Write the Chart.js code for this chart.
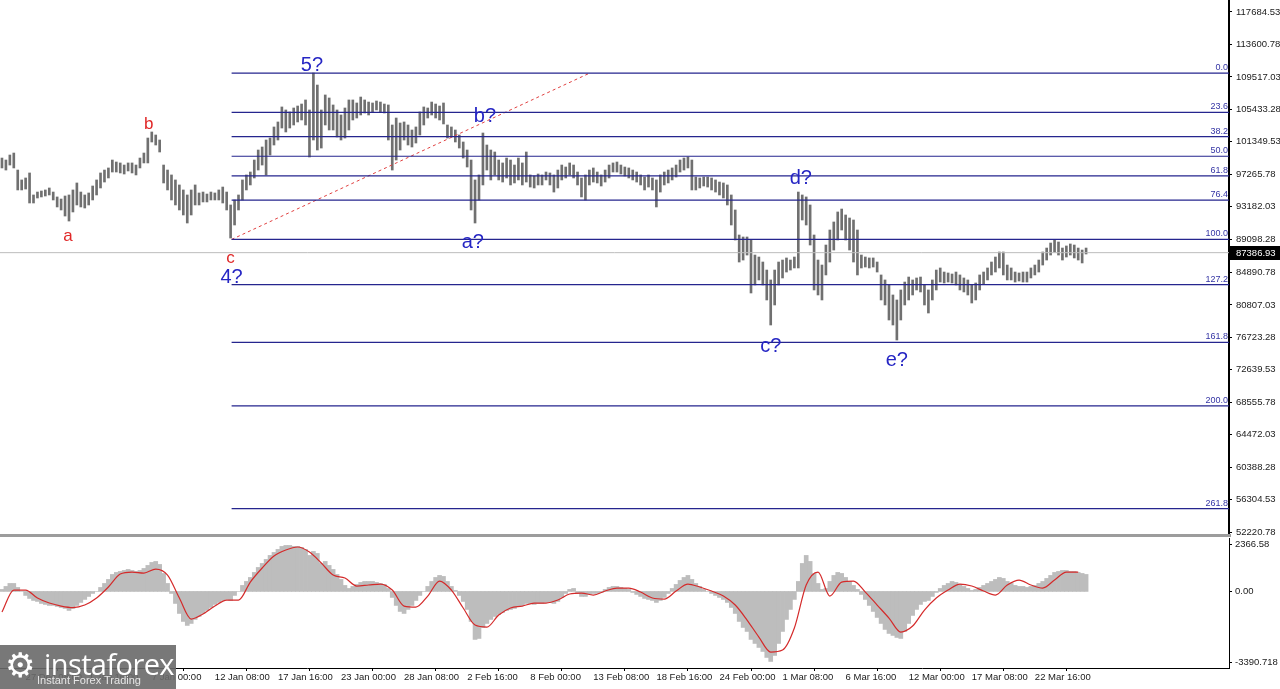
<!DOCTYPE html>
<html><head><meta charset="utf-8">
<script src="https://cdn.jsdelivr.net/npm/chart.js@4.4.1/dist/chart.umd.min.js"></script>
<style>
html,body{margin:0;padding:0;background:#fff;width:1280px;height:689px;overflow:hidden;position:relative;}
#c1{position:absolute;left:0;top:0;}
#c2{position:absolute;left:0;top:536px;}
#sep{position:absolute;left:0;top:534px;width:1231px;height:3px;background:#9c9c9c;}
#logo{position:absolute;left:0;top:645px;width:176px;height:44px;background:rgba(105,105,105,0.9);overflow:hidden;}
#logo .gear{position:absolute;left:5px;top:0px;font:34px "DejaVu Sans";color:#fff;}
#logo .name{position:absolute;left:44px;top:-1px;font:29px "Open Sans","Liberation Sans",sans-serif;color:#fff;letter-spacing:-0.6px;}
#logo .tag{position:absolute;left:37px;top:29px;font:11px "Liberation Sans",sans-serif;color:#e6e6e6;}
</style></head><body>
<canvas id="c1" width="1280" height="542"></canvas>
<div id="sep"></div>
<canvas id="c2" width="1280" height="153"></canvas>
<div id="logo"><span class="gear">⚙</span><span class="name">instaforex</span><span class="tag">Instant Forex Trading</span></div>
<script>
// ---------------- data ----------------
const tickLabels = ['27 Dec 08:00','1 Jan 16:00','7 Jan 00:00','12 Jan 08:00','17 Jan 16:00','23 Jan 00:00','28 Jan 08:00','2 Feb 16:00','8 Feb 00:00','13 Feb 08:00','18 Feb 16:00','24 Feb 00:00','1 Mar 08:00','6 Mar 16:00','12 Mar 00:00','17 Mar 08:00','22 Mar 16:00'];
const priceTicks = [117684.53,113600.78,109517.03,105433.28,101349.53,97265.78,93182.03,89098.28,84890.78,80807.03,76723.28,72639.53,68555.78,64472.03,60388.28,56304.53,52220.78];
const viewFrom = '25 Dec 04:00';
const viewTo = '8 Apr 02:00';
const priceMin = 52095, priceMax = 119195;
const barStart = '25 Dec 08:00';
const barStepHours = 8;
const priceHigh = [
99300,99050,99680,99930,97790,96540,96790,97420,94650,95020,
95150,95280,95530,95020,94400,94140,94520,94650,95280,96160,
95020,94650,94900,95780,96540,97420,97790,98050,99050,98800,
98680,98420,98680,98680,98420,99300,99930,101820,102580,102200,
101570,98420,97790,97170,96540,95910,95280,94650,95280,95910,
94900,95020,94770,95020,94900,95280,95650,95020,93390,94020,
94650,96540,97170,97540,99050,100310,100690,101570,101820,103210,
103840,105730,105350,105100,105600,105850,106100,106610,105350,110000,
108490,105350,107240,106860,105980,105350,104720,105600,106610,106610,
106230,106980,106610,106350,106230,106480,106350,106100,105980,103460,
104340,103710,103840,103460,102830,103210,105100,105730,105600,106350,
106100,105850,106230,103460,103210,102830,102200,101320,100310,99050,
96540,97170,102450,100940,100310,100060,99050,98680,99300,99050,
98420,99300,98680,100060,97170,97040,97290,97170,97540,97420,
97170,97790,98420,98170,98680,98420,97540,96790,97170,97790,
98050,97540,97170,97790,98420,98680,98800,98420,98170,98050,
97790,97540,97170,96910,97170,96790,96540,97170,97540,97790,
98050,98420,99050,99300,99430,99050,96910,96790,96910,96910,
96790,96540,96280,96160,95910,94650,92760,89610,89360,89360,
88980,87090,86840,86210,85200,83950,85200,86210,86460,86720,
86460,86840,95020,94650,94400,93390,89610,86460,85830,88350,
90240,91250,92510,92880,92130,91750,91500,90240,87090,86840,
86720,86720,86210,84580,83950,83320,82060,81430,82690,83690,
84320,83950,84200,84320,83320,82690,83950,85200,85460,84950,
84830,84700,84950,84580,84200,83950,83320,83570,84580,84950,
85460,86210,86840,87470,87470,85830,85460,84950,84830,84950,
84950,85460,85830,86460,87470,87970,88600,88980,88730,87970,
88230,88480,88350,87970,87720,87970];
const priceLow = [
98050,97790,98420,98050,95280,95280,95400,93640,93640,94270,
94400,94520,94650,94020,93140,92760,92000,91370,92510,93390,
93140,93010,93390,94020,94650,95530,96280,96790,97540,97540,
97420,97290,97670,97420,97170,98050,98680,98680,101320,100940,
100060,96160,95280,94020,93390,92760,92130,91120,92130,93390,
93390,93770,93770,94020,94020,94020,93640,92760,89230,90870,
92760,94020,95280,95910,96790,97790,98420,97170,99680,100940,
101570,103080,102580,103080,103460,103840,104090,103460,99430,101570,
100310,100560,103460,102830,102830,101950,101570,101820,102830,104090,
104340,104720,104970,104720,105100,105350,105100,104970,101570,97790,
99050,100310,101570,100940,100690,101190,102200,103460,104340,104720,
104340,104090,103590,101820,101950,101320,100560,99300,98170,92760,
91120,94020,95910,97790,96540,97170,96540,96280,96790,95910,
96160,96540,95910,96280,95650,95530,95910,95910,96540,95910,
95020,95530,96540,96790,97170,96790,95910,94400,94020,95910,
96280,96160,95780,96280,96790,97540,97540,97290,97040,96790,
96540,96280,95910,95280,95650,95280,93140,95020,95910,96160,
96540,96910,97540,97790,98050,95280,95280,95530,95780,95650,
95280,95020,94650,94270,93390,90870,88980,86210,86460,87090,
82310,83320,83950,83320,81430,78280,80800,83320,84200,84950,
85200,85460,85460,91500,90870,88350,82690,82060,81430,84580,
86210,87720,88980,90240,88980,87720,86210,84580,85460,85580,
85460,85580,84950,81430,80800,78910,78280,76390,78910,80800,
81430,82060,82690,82440,80800,79790,81430,82690,83690,83570,
83690,83570,83320,82690,82440,82060,81050,81430,82690,83440,
83950,84580,84950,85460,84580,83950,83950,83690,83820,83690,
83690,84200,84580,84950,85830,86460,87090,87470,87090,86460,
86840,87090,86720,86460,86090,87220];
const lastPrice = 87386.93;
const macdHist = [
89,222,354,354,177,0,-177,-310,-399,-443,
-532,-576,-620,-620,-665,-709,-753,-842,-753,-620,
-487,-354,-222,-89,0,177,354,532,753,842,
886,930,975,930,886,930,1019,1152,1285,1329,
1196,797,354,-89,-532,-975,-1329,-1506,-1418,-1240,
-1108,-975,-842,-709,-576,-487,-399,-354,-399,-177,
0,266,443,620,842,1063,1240,1418,1595,1728,
1861,1994,2038,2038,1994,1994,1949,1861,1595,1772,
1683,1240,1329,1152,975,753,532,266,133,222,
310,399,443,443,443,399,354,310,133,-266,
-620,-886,-975,-797,-620,-399,-177,0,222,443,
620,709,665,443,222,44,-177,-443,-797,-1329,
-2126,-2082,-1595,-1418,-1240,-1108,-1019,-930,-842,-797,
-753,-665,-620,-532,-532,-576,-532,-532,-487,-487,
-532,-443,-266,-89,89,133,-89,-222,-222,-133,
-89,-89,-44,89,177,222,222,177,133,89,
-44,-133,-222,-310,-354,-399,-487,-399,-266,-89,
133,310,487,620,709,532,354,222,89,0,
-89,-177,-266,-354,-487,-709,-975,-1329,-1595,-1772,
-2126,-2304,-2481,-2658,-2924,-3101,-2835,-2304,-1772,-1240,
-797,-354,443,1240,1595,1329,797,354,89,133,
443,709,842,797,620,443,266,89,-133,-354,
-620,-886,-1152,-1418,-1683,-1861,-1949,-2038,-2082,-1772,
-1418,-1063,-797,-576,-443,-399,-222,-44,133,266,
354,443,399,310,222,133,44,89,177,266,
354,443,532,620,576,443,354,266,222,222,
177,222,266,354,443,576,709,842,886,930,
930,886,886,842,797,753];
const signalStepHours = 24;
const macdSignal = [
-913,62,62,-292,-514,-647,-713,-602,-292,195,
771,859,815,992,727,-292,-1223,-1001,-647,-381,
-381,416,1037,1568,1834,1967,1745,1258,727,594,
239,284,328,62,-647,-691,-204,461,62,-735,
-1488,-1577,-1045,-735,-647,-514,-514,-381,-115,-71,
-159,18,151,151,-27,-292,-337,18,328,195,
18,-204,-602,-1267,-2020,-2684,-2596,-1621,284,859,
-204,416,461,-27,-602,-1178,-1798,-1533,-824,-292,
62,328,239,18,-159,284,505,284,151,505,
859,859];
const macdMax = 2366.58, macdMin = -3390.718;
const macdLabels = ['2366.58','0.00','-3390.718'];
const fibRatios = [0,23.6,38.2,50,61.8,76.4,100,127.2,161.8,200,261.8];
const fibHigh = 110000, fibLow = 89050;
const fibFrom = '13 Jan 18:00';
const trendFrom = '13 Jan 18:00', trendTo = '13 Feb 01:00';
const waveText  = ['a','b','c','4?','5?','b?','a?','c?','d?','e?'];
const waveTime  = ['30 Dec 22:00','6 Jan 18:00','13 Jan 16:00','13 Jan 18:00','20 Jan 13:00','4 Feb 04:00','3 Feb 03:30','28 Feb 08:00','2 Mar 21:00','11 Mar 00:00'];
const wavePrice = [89485,103584,86715,84323,111012,104592,88730,75637,96787,73874];
const waveRed   = [true,true,true,false,false,false,false,false,false,false];

// ---------------- helpers ----------------
const MONTHS = {Dec:[2024,11],Jan:[2025,0],Feb:[2025,1],Mar:[2025,2],Apr:[2025,3]};
function hoursOf(label){
  const p = label.split(' '); const t = p[2].split(':').map(Number); const ym = MONTHS[p[1]];
  return (Date.UTC(ym[0],ym[1],+p[0],t[0],t[1]) - Date.UTC(2025,0,1))/3600000;
}
const xMin = hoursOf(viewFrom), xMax = hoursOf(viewTo);
const t0 = hoursOf(barStart);
const tickTimes = tickLabels.map(hoursOf);
const FONT = '"Liberation Sans", Arial, sans-serif';
Chart.defaults.font.family = FONT;
function noPad(s){ s.paddingTop = 0; s.paddingBottom = 0; s.paddingLeft = 0; s.paddingRight = 0; }

// ---------------- main price chart ----------------
const barData = priceHigh.map((h,i)=>({x: t0 + i*barStepHours, y:[priceLow[i], h]}));
const fStart = hoursOf(fibFrom);
const fibSets = fibRatios.map(r=>{
  const v = fibHigh - r/100*(fibHigh - fibLow);
  return {type:'line', data:[{x:fStart,y:v},{x:xMax,y:v}], borderColor:'#25258e', borderWidth:1.2, pointRadius:0, fill:false};
});
const trendSet = {type:'line', data:[{x:hoursOf(trendFrom),y:fibLow},{x:hoursOf(trendTo),y:fibHigh}], borderColor:'#e04040', borderWidth:1, borderDash:[3,3], pointRadius:0, fill:false};
const lastSet = {type:'line', data:[{x:xMin,y:lastPrice},{x:xMax,y:lastPrice}], borderColor:'#bcbcbc', borderWidth:1, pointRadius:0, fill:false};

const overlay1 = {
  id:'overlay1',
  afterDraw(chart){
    const {ctx, chartArea:a, scales:{x,y}} = chart;
    ctx.save();
    ctx.font = '9px '+FONT; ctx.fillStyle = '#3434a4'; ctx.textAlign='right'; ctx.textBaseline='bottom';
    fibRatios.forEach(r=>{
      const v = fibHigh - r/100*(fibHigh - fibLow);
      ctx.fillText(r.toFixed(1), a.right-1, y.getPixelForValue(v)-1);
    });
    ctx.textAlign='center'; ctx.textBaseline='middle';
    waveText.forEach((s,i)=>{
      ctx.font = (waveRed[i]?'17px ':'20px ')+FONT;
      ctx.fillStyle = waveRed[i] ? '#e02828' : '#2626c4';
      ctx.fillText(s, x.getPixelForValue(hoursOf(waveTime[i])), y.getPixelForValue(wavePrice[i]));
    });
    const py = Math.round(y.getPixelForValue(lastPrice));
    ctx.fillStyle = '#000'; ctx.fillRect(a.right+1, py-7, 1280-a.right, 14);
    ctx.fillStyle = '#fff'; ctx.font = '9.5px '+FONT; ctx.textAlign='left';
    ctx.fillText(lastPrice.toFixed(2), a.right+7, py);
    ctx.restore();
  }
};

new Chart(document.getElementById('c1'), {
  type:'bar',
  data:{datasets:[...fibSets, trendSet, lastSet,
    {type:'bar', data:barData, backgroundColor:'#707070', borderWidth:0, barThickness:2}]},
  options:{
    responsive:false, animation:false, devicePixelRatio:1,
    layout:{padding:{top:0, left:0, right:0, bottom:9}},
    plugins:{legend:{display:false}, tooltip:{enabled:false}},
    scales:{
      x:{type:'linear', min:xMin, max:xMax, display:false, offset:false},
      y:{position:'right', min:priceMin, max:priceMax,
         afterBuildTicks(s){ s.ticks = priceTicks.map(v=>({value:v})); },
         afterFit(s){ s.width = 51; noPad(s); },
         grid:{drawOnChartArea:false, drawTicks:true, tickLength:3, color:'#000'},
         border:{color:'#000', width:2},
         ticks:{autoSkip:false, padding:4, color:'#1a1a1a', font:{size:9.5}, callback:v=>Number(v).toFixed(2)}}
    }
  },
  plugins:[overlay1]
});

// ---------------- MACD chart ----------------
const histData = macdHist.map((v,i)=>({x: t0 + i*barStepHours, y:v}));
const sigData = macdSignal.map((v,i)=>({x: t0 + i*signalStepHours, y:v}));
const overlay2 = {
  id:'overlay2',
  afterDraw(chart){
    const {ctx, chartArea:a, scales:{y}} = chart;
    ctx.save();
    ctx.font = '9.5px '+FONT; ctx.fillStyle = '#1a1a1a'; ctx.textAlign='left'; ctx.textBaseline='middle';
    const pos = [y.getPixelForValue(macdMax)+6, y.getPixelForValue(0), y.getPixelForValue(macdMin)-6];
    macdLabels.forEach((s,i)=>{
      ctx.fillText(s, a.right+6, pos[i]);
      ctx.fillStyle='#000'; ctx.fillRect(a.right, Math.round(pos[i]), 3, 1); ctx.fillStyle='#1a1a1a';
    });
    ctx.restore();
  }
};
new Chart(document.getElementById('c2'), {
  type:'bar',
  data:{datasets:[
    {type:'line', data:sigData, borderColor:'#d42a2a', borderWidth:1.2, pointRadius:0, fill:false, cubicInterpolationMode:'monotone'},
    {type:'bar', data:histData, backgroundColor:'#bdbdbd', borderWidth:0, barThickness:4}
  ]},
  options:{
    responsive:false, animation:false, devicePixelRatio:1,
    layout:{padding:{top:2, left:0, right:0, bottom:0}},
    plugins:{legend:{display:false}, tooltip:{enabled:false}},
    scales:{
      x:{type:'linear', min:xMin, max:xMax, offset:false,
         afterBuildTicks(s){ s.ticks = tickTimes.map(v=>({value:v})); },
         afterFit(s){ s.height = 21; noPad(s); },
         grid:{drawOnChartArea:false, drawTicks:true, tickLength:3, color:'#000'},
         border:{color:'#000', width:1},
         ticks:{autoSkip:false, maxRotation:0, minRotation:0, align:'start', padding:1, color:'#1a1a1a', font:{size:9.5},
                callback:(v)=>{ const i = tickTimes.indexOf(v); return i>=0 ? tickLabels[i] : ''; }}},
      y:{position:'right', min:macdMin, max:macdMax,
         afterFit(s){ s.width = 51; noPad(s); },
         ticks:{display:false}, grid:{display:false},
         border:{color:'#000', width:1}}
    }
  },
  plugins:[overlay2]
});
</script>
</body></html>
